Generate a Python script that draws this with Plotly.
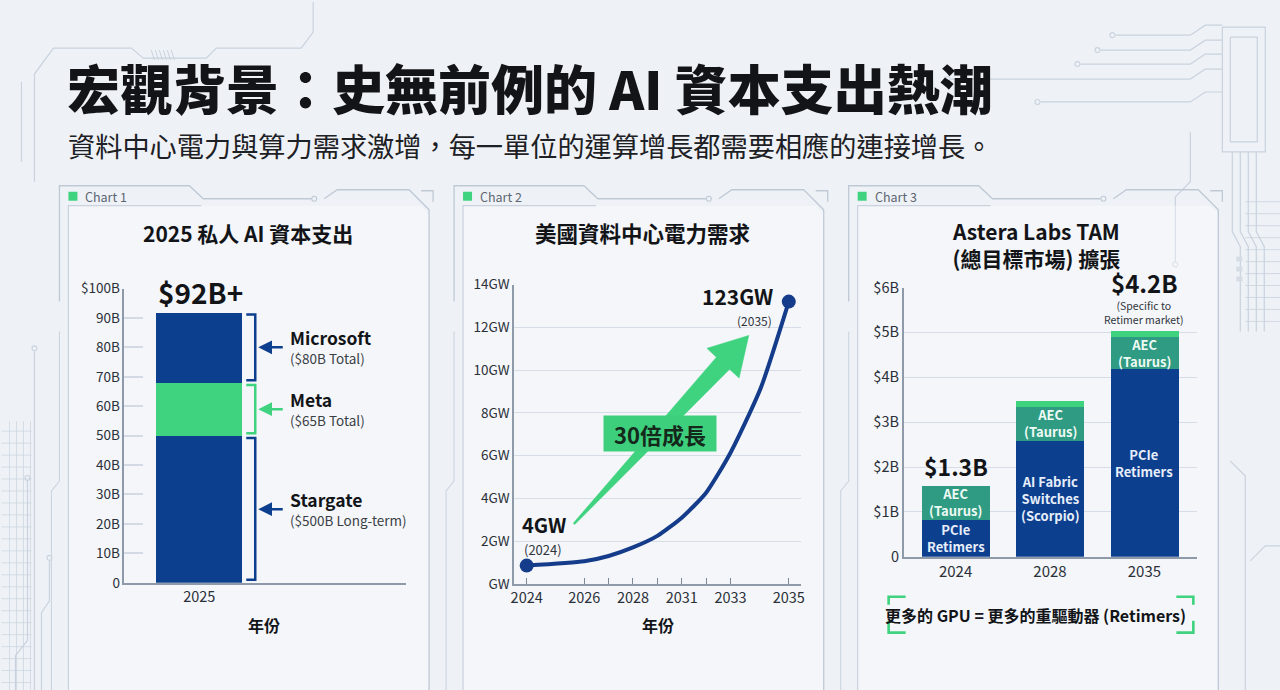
import plotly.graph_objects as go

# ---------------- data ----------------
title_main = "宏觀背景：史無前例的 AI 資本支出熱潮"
subtitle = "資料中心電力與算力需求激增，每一單位的運算增長都需要相應的連接增長。"

# Chart 1: 2025 private AI capex (stacked, $B)
c1_year = ["2025"]
c1_names = ["Stargate", "Meta", "Microsoft"]
c1_values = [50, 18, 24]
c1_notes = ["($500B Long-term)", "($65B Total)", "($80B Total)"]
c1_total_label = "$92B+"
c1_ticks = [0, 10, 20, 30, 40, 50, 60, 70, 80, 90, 100]
c1_ticktext = ["0", "10B", "20B", "30B", "40B", "50B", "60B", "70B", "80B", "90B", "$100B"]

# Chart 2: US data-center power demand (GW) on the chart's own year scale
c2_tick_pos = [0, 2.36, 3.36, 4.36, 5.36, 6.36, 7.36, 8.36, 10.75]
c2_tick_text = ["2024", "2026", "", "2028", "", "2031", "", "2033", "2035"]
c2_x = [0, 2.36, 3.36, 4.36, 5.36, 6.36, 7.36, 8.36, 9.6, 10.75]
c2_y = [0.85, 1.05, 1.3, 1.7, 2.24, 3.09, 4.26, 6.13, 9.16, 13.2]
c2_yticks = [0, 2, 4, 6, 8, 10, 12, 14]
c2_yticktext = ["GW", "2GW", "4GW", "6GW", "8GW", "10GW", "12GW", "14GW"]

# Chart 3: Astera Labs TAM ($B, stacked)
c3_years = ["2024", "2028", "2035"]
c3_base = [0.83, 2.6, 4.2]
c3_base_labels = ["PCIe<br>Retimers", "AI Fabric<br>Switches<br>(Scorpio)", "PCIe<br>Retimers"]
c3_aec = [0.77, 0.75, 0.7]
c3_top = [0.0, 0.14, 0.14]
c3_yticks = [0, 1, 2, 3, 4, 5, 6]
c3_yticktext = ["0", "$1B", "$2B", "$3B", "$4B", "$5B", "$6B"]

# ---------------- style ----------------
FONT = "Noto Sans CJK TC, Noto Sans, sans-serif"
NAVY = "#0d3f8f"
LINE = "#143c8a"
GREEN = "#3fd27f"
TEAL = "#2f9b82"
INK = "#121418"
GRID = "#d6dde7"
AXIS = "#8e9aaa"
DECO = "#c9d2de"
BG = "#eef2f6"
W, H = 1280, 690
# screen-placement correction measured for the capture
SX, OX, SY, OY = 0.9955, 1.5, 0.972, 9.8


def px(x):
    return (x - OX) / SX / W


def py(y):
    return 1 - (y - OY) / SY / H


fig = go.Figure()

# ---- Chart 1 traces ----
c1_colors = [NAVY, GREEN, NAVY]
for name, val, col in zip(c1_names, c1_values, c1_colors):
    fig.add_trace(go.Bar(x=[0], y=[val], width=1, name=name, marker=dict(color=col, line=dict(width=0)),
                         xaxis="x", yaxis="y", showlegend=False, hoverinfo="skip"))

# ---- Chart 2 traces ----
fig.add_trace(go.Scatter(x=c2_x, y=c2_y, mode="lines", line=dict(color=LINE, width=4, shape="spline", smoothing=0.6),
                         xaxis="x2", yaxis="y2", showlegend=False, hoverinfo="skip"))
fig.add_trace(go.Scatter(x=[c2_x[0], c2_x[-1]], y=[c2_y[0], c2_y[-1]], mode="markers",
                         marker=dict(size=14, color=LINE, opacity=1, line=dict(width=0)),
                         xaxis="x2", yaxis="y2", showlegend=False, cliponaxis=False, hoverinfo="skip"))

# ---- Chart 3 traces ----
c3_x = list(range(len(c3_years)))
fig.add_trace(go.Bar(x=c3_x, y=c3_base, width=0.72, marker=dict(color=NAVY, line=dict(width=0)),
                     xaxis="x3", yaxis="y3", showlegend=False, hoverinfo="skip"))
fig.add_trace(go.Bar(x=c3_x, y=c3_aec, width=0.72, marker=dict(color=TEAL, line=dict(width=0)),
                     xaxis="x3", yaxis="y3", showlegend=False, hoverinfo="skip"))
fig.add_trace(go.Bar(x=c3_x, y=c3_top, width=0.72, marker=dict(color=GREEN, line=dict(width=0)),
                     xaxis="x3", yaxis="y3", showlegend=False, hoverinfo="skip"))

shapes = []
ann = []


def A(**kw):
    kw.setdefault("showarrow", False)
    kw.setdefault("xanchor", "center")
    kw.setdefault("yanchor", "middle")
    kw.setdefault("xref", "paper")
    kw.setdefault("yref", "paper")
    ann.append(kw)


# ---------------- background decoration ----------------
def path(d, color=DECO, width=1.2, fill=None):
    s = dict(type="path", path=d, xref="paper", yref="paper", layer="below",
             line=dict(color=color, width=width))
    if fill:
        s["fillcolor"] = fill
    shapes.append(s)


def P(points):
    return "M " + " L ".join(f"{px(x):.5f},{py(y):.5f}" for x, y in points)


def circle(x, y, r=2.5, color=DECO):
    shapes.append(dict(type="circle", xref="paper", yref="paper", layer="below",
                       x0=px(x - r), x1=px(x + r), y0=py(y + r), y1=py(y - r),
                       line=dict(color=color, width=1.1)))


# top-left circuit
path(P([(33, 180), (33, 72), (52, 46), (130, 46), (142, 56), (205, 56), (215, 46), (300, 46), (312, 30), (312, 0)]))
path(P([(20, 160), (20, 80)]))
for k in range(6):
    path(P([(150 + 4 * k, 48), (153 + 4 * k, 58)]), width=1)
# top-right circuit
for yy, x0 in [(77, 950), (62, 1080), (48, 1100), (33, 1115), (100, 1040)]:
    path(P([(x0, yy), (1190, yy), (1205, yy - 10), (1222, yy - 10)]))
    circle(x0 - 3, yy)
path(P([(1222, 25), (1265, 25), (1265, 150), (1222, 150), (1222, 25)]))
path(P([(1230, 35), (1257, 35), (1257, 140), (1230, 140), (1230, 35)]))
for xx in [1232, 1240, 1248, 1256]:
    path(P([(xx, 150), (xx, 230), (xx + 8, 245), (xx + 8, 330)]))
for yy in range(200, 330, 12):
    path(P([(1245, yy), (1280, yy)]), width=0.8)
path(P([(1190, 130), (1190, 180), (1175, 195), (1175, 260)]))
circle(1175, 263)
for yy in [255, 265, 275]:
    shapes.append(dict(type="rect", xref="paper", yref="paper", layer="below", x0=px(1236), x1=px(1242),
                       y0=py(yy + 5), y1=py(yy), fillcolor="#d5dce6", line=dict(width=0)))
# left side circuit
path(P([(33, 350), (33, 700)]))
circle(33, 347)
path(P([(26, 480), (26, 640), (14, 655), (14, 700)]))
circle(26, 477)
path(P([(48, 560), (48, 600), (40, 612), (40, 700)]))
circle(48, 557)
for xx in range(8, 32, 7):
    path(P([(xx, 420), (xx, 700)]), width=0.7)
for yy in range(430, 690, 12):
    path(P([(0, yy), (30, yy)]), width=0.7)
# bottom-right circuit
path(P([(1230, 460), (1245, 475), (1245, 700)]))
path(P([(1250, 560), (1265, 545), (1280, 545)]))

# ---------------- cards ----------------
for i, off in enumerate([0, 395, 790]):
    def o(pts):
        return [(x + off, y) for x, y in pts]
    path(P(o([(67, 700), (67, 204), (420, 204), (428, 212), (428, 700)])) + " Z", color="rgba(0,0,0,0)", width=0,
         fill="rgba(255,255,255,0.35)")
    path(P(o([(58, 300), (58, 184), (188, 184), (202, 197), (310, 197)])), color="#bfc9d6", width=1.3)
    circle(313 + off, 197, 2.5, "#bfc9d6")
    path(P(o([(323, 197), (336, 188), (408, 188), (428, 208), (428, 700)])), color="#bfc9d6", width=1.3)
    path(P(o([(67, 700), (67, 204), (200, 204)])), color="#c9d2de", width=1.2)
    path(P(o([(420, 189), (432, 189), (432, 200)])), color="#bfc9d6", width=1.3)
    path(P(o([(58, 330), (58, 480), (50, 490), (50, 700)])), color="#ccd5e0", width=1.1)
    shapes.append(dict(type="rect", xref="paper", yref="paper", x0=px(67 + off), x1=px(76 + off),
                       y0=py(199), y1=py(190), fillcolor=GREEN, line=dict(width=0)))
    A(text=f"Chart {i + 1}", x=px(82 + off), y=py(195), xanchor="left",
      font=dict(family=FONT, size=12.5, color="#5d6672"))

# ---------------- titles ----------------
A(text=title_main, x=px(64), y=py(85), xanchor="left", font=dict(family=FONT, size=53, color=INK, weight=900))
A(text=subtitle, x=px(65), y=py(143), xanchor="left", font=dict(family=FONT, size=27.2, color="#1d2024"))
A(text="<b>2025 私人 AI 資本支出</b>", x=px(247), y=py(231), font=dict(family=FONT, size=21, color=INK))
A(text="<b>美國資料中心電力需求</b>", x=px(642), y=py(231), font=dict(family=FONT, size=21.5, color=INK))
A(text="<b>Astera Labs TAM<br>(總目標市場) 擴張</b>", x=px(1036), y=py(243), font=dict(family=FONT, size=21, color=INK))
for xc in [263, 657]:
    A(text="<b>年份</b>", x=px(xc), y=py(624), font=dict(family=FONT, size=16, color=INK))

# ---------------- chart 1 annotations ----------------
A(text=f"<b>{c1_total_label}</b>", x=-0.5, y=sum(c1_values), xref="x", yref="y", xanchor="left",
  yanchor="bottom", yshift=-2, font=dict(family=FONT, size=28, color=INK))
cum = 0
gap = 0.8
for name, val, col, note in zip(c1_names, c1_values, c1_colors, c1_notes):
    lo, hi = cum + gap, cum + val - gap
    if cum == 0:
        lo = 1.0
    mid = cum + val / 2
    shapes.append(dict(type="path", xref="paper", yref="y",
                       path=f"M {px(245)},{lo} L {px(254)},{lo} L {px(254)},{hi} L {px(245)},{hi}",
                       line=dict(color=col, width=2.5)))
    A(text="", x=px(257), y=mid, yref="y", ax=26, ay=0, axref="pixel", ayref="pixel",
      showarrow=True, arrowhead=2, arrowsize=1.1, arrowwidth=2.5, arrowcolor=col)
    A(text=f"<b>{name}</b>", x=px(287), y=mid, yref="y", xanchor="left", yshift=10,
      font=dict(family=FONT, size=17.5, color=INK))
    A(text=note, x=px(287), y=mid, yref="y", xanchor="left", yshift=-11,
      font=dict(family=FONT, size=13.5, color="#3a3f46"))
    cum += val

# ---------------- chart 2 annotations ----------------
A(text="<b>4GW</b>", x=px(519), y=py(524), xanchor="left", font=dict(family=FONT, size=20, color=INK))
A(text="(2024)", x=px(521), y=py(549), xanchor="left", font=dict(family=FONT, size=13, color="#2f343b"))
A(text="<b>123GW</b>", x=px(774), y=py(295), xanchor="right", font=dict(family=FONT, size=21, color=INK))
A(text="(2035)", x=px(773), y=py(319), xanchor="right", font=dict(family=FONT, size=12, color="#2f343b"))
# growth arrow (decorative)
arrow_pts = [(573.7, 523.7), (728.8, 368.0), (738.3, 376.8), (748, 334), (706.1, 347.0), (715.6, 355.8), (572.3, 522.3)]
shapes.append(dict(type="path", xref="paper", yref="paper", path=P(arrow_pts) + " Z",
                   fillcolor=GREEN, line=dict(color=GREEN, width=0.5)))
A(text="<b>30倍成長</b>", x=px(659), y=py(432), width=110, height=33, bgcolor="#3ecf7d",
  font=dict(family=FONT, size=22, color="#14281b"))

# ---------------- chart 3 annotations ----------------
for i in range(len(c3_years)):
    b, a = c3_base[i], c3_aec[i]
    A(text=c3_base_labels[i], x=i, y=b / 2, xref="x3", yref="y3",
      font=dict(family=FONT, size=13, color="#e6eefa", weight=600))
    A(text="AEC<br>(Taurus)", x=i, y=b + a / 2, xref="x3", yref="y3",
      font=dict(family=FONT, size=13, color="#eefaf4", weight=600))
tot0 = c3_base[0] + c3_aec[0] + c3_top[0]
A(text="<b>$1.3B</b>", x=0, y=tot0, xref="x3", yref="y3", yanchor="bottom", yshift=0,
  font=dict(family=FONT, size=23, color=INK))
tot2 = c3_base[2] + c3_aec[2] + c3_top[2]
A(text="(Specific to<br>Retimer market)", x=2, y=tot2, xref="x3", yref="y3", yanchor="bottom", yshift=2,
  font=dict(family=FONT, size=10.5, color="#2f343b"))
A(text="<b>$4.2B</b>", x=2, y=tot2, xref="x3", yref="y3", yanchor="bottom", yshift=29,
  font=dict(family=FONT, size=24, color=INK))
A(text="<b>更多的 GPU = 更多的重驅動器 (Retimers)</b>", x=px(1035), y=py(614),
  font=dict(family=FONT, size=16, color=INK))
for pts in [[(888, 604), (888, 596), (905, 596)], [(888, 620), (888, 632), (905, 632)],
            [(1193, 604), (1193, 596), (1176, 596)], [(1193, 620), (1193, 632), (1176, 632)]]:
    shapes.append(dict(type="path", xref="paper", yref="paper", path=P(pts), line=dict(color=GREEN, width=2.6)))

tickfont = dict(family=FONT, size=13.5, color="#2b3038")

fig.update_layout(
    width=W, height=H, autosize=False, margin=dict(l=0, r=0, t=0, b=0),
    paper_bgcolor=BG, plot_bgcolor="rgba(0,0,0,0)", barmode="stack", bargap=0,
    font=dict(family=FONT),
    xaxis=dict(domain=[px(123), px(405)], range=[-0.872, 2.407], tickvals=[0], ticktext=c1_year, anchor="y",
               showline=True, linecolor=AXIS, linewidth=1.5, showgrid=False, zeroline=False, ticks="",
               tickfont=dict(family=FONT, size=14.5, color="#2b3038"), fixedrange=True),
    yaxis=dict(domain=[py(582), py(287)], range=[0, 100], tickvals=c1_ticks, ticktext=c1_ticktext, anchor="x",
               showline=True, linecolor=AXIS, linewidth=1.5, showgrid=False, zeroline=False,
               ticks="inside", ticklen=19, tickcolor="#d3dae4", tickwidth=1.5, tickfont=tickfont),
    xaxis2=dict(domain=[px(513), px(800)], range=[-0.52, 11.24], tickvals=c2_tick_pos, ticktext=c2_tick_text,
                anchor="y2", showline=True, linecolor=AXIS, linewidth=1.5, showgrid=False, zeroline=False,
                ticks="inside", ticklen=6, tickcolor="#7c8898", tickwidth=1.3,
                tickfont=dict(family=FONT, size=14.5, color="#2b3038")),
    yaxis2=dict(domain=[py(583), py(283)], range=[0, 14], tickvals=c2_yticks, ticktext=c2_yticktext, anchor="x2",
                showline=True, linecolor=AXIS, linewidth=1.5, showgrid=True, gridcolor=GRID, gridwidth=1.3,
                zeroline=False, ticks="", tickfont=tickfont),
    xaxis3=dict(domain=[px(903), px(1197)], range=[-0.55, 2.56], tickvals=c3_x, ticktext=c3_years, anchor="y3",
                showline=True, linecolor=AXIS, linewidth=1.5, showgrid=False, zeroline=False, ticks="",
                tickfont=dict(family=FONT, size=15, color="#2b3038")),
    yaxis3=dict(domain=[py(556), py(286)], range=[0, 6], tickvals=c3_yticks, ticktext=c3_yticktext, anchor="x3",
                showline=True, linecolor=AXIS, linewidth=1.5, showgrid=True, gridcolor=GRID, gridwidth=1.3,
                zeroline=False, ticks="", tickfont=dict(family=FONT, size=14.5, color="#2b3038")),
    shapes=shapes, annotations=ann,
)

post = ("document.documentElement.style.margin='0';document.body.style.margin='0';"
        "document.body.style.overflow='hidden';document.documentElement.style.overflow='hidden';"
        f"document.body.style.background='{BG}';document.documentElement.style.background='{BG}';"
        "var g=document.querySelector('.plotly-graph-div');g.style.position='fixed';g.style.left='0';g.style.top='0';")
fig.write_html("out.html", config={"displayModeBar": False}, post_script=post)
